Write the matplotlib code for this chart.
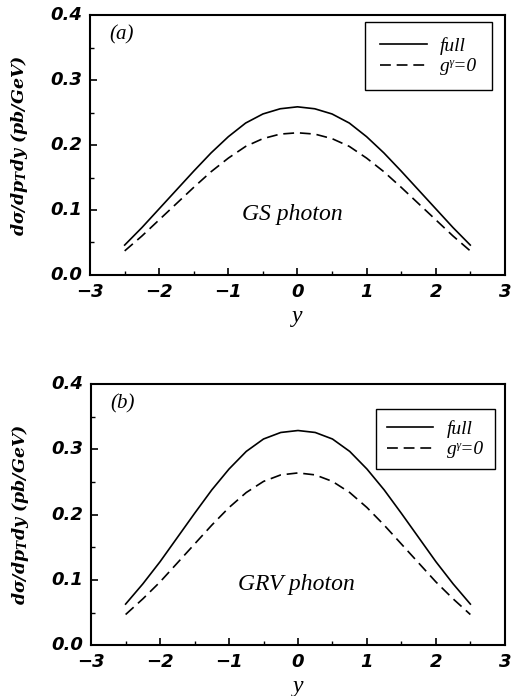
import numpy as np
import matplotlib.pyplot as plt
from matplotlib.ticker import MultipleLocator

# rapidity points
y_pts = [-2.5, -2.25, -2.0, -1.75, -1.5, -1.25, -1.0, -0.75, -0.5, -0.25, 0.0,
         0.25, 0.5, 0.75, 1.0, 1.25, 1.5, 1.75, 2.0, 2.25, 2.5]

# panel (a): GS photon
gs_full = [0.046, 0.073, 0.102, 0.131, 0.160, 0.188, 0.213, 0.234, 0.248, 0.256, 0.259,
           0.256, 0.248, 0.234, 0.213, 0.188, 0.160, 0.131, 0.102, 0.073, 0.046]
gs_nog = [0.037, 0.060, 0.085, 0.110, 0.135, 0.159, 0.180, 0.198, 0.210, 0.217, 0.219,
          0.217, 0.210, 0.198, 0.180, 0.159, 0.135, 0.110, 0.085, 0.060, 0.037]

# panel (b): GRV photon
grv_full = [0.063, 0.094, 0.128, 0.165, 0.202, 0.238, 0.270, 0.297, 0.316, 0.326, 0.329,
            0.326, 0.316, 0.297, 0.270, 0.238, 0.202, 0.165, 0.128, 0.094, 0.063]
grv_nog = [0.047, 0.071, 0.097, 0.126, 0.155, 0.184, 0.211, 0.234, 0.251, 0.261, 0.264,
           0.261, 0.251, 0.234, 0.211, 0.184, 0.155, 0.126, 0.097, 0.071, 0.047]

plt.rcParams['font.family'] = ['Liberation Serif', 'DejaVu Serif']
plt.rcParams['mathtext.fontset'] = 'custom'
plt.rcParams['mathtext.it'] = 'DejaVu Serif:italic:bold'
plt.rcParams['mathtext.rm'] = 'DejaVu Serif:italic:bold'
plt.rcParams['mathtext.bf'] = 'DejaVu Serif:italic:bold'

fig = plt.figure(figsize=(5.12, 6.96), dpi=100)
ax_a = fig.add_axes([0.176, 0.605, 0.810, 0.373])
ax_b = fig.add_axes([0.178, 0.073, 0.808, 0.375])


def draw_panel(ax, full, nog, tag, name, name_x, leg_anchor, leg_pad):
    ax.plot(y_pts, full, color='black', lw=1.2, label='full')
    ax.plot(y_pts, nog, color='black', lw=1.2, ls=(0, (6.5, 3.5)), label='g\u1d5e=0')
    ax.set_xlim(-3, 3)
    ax.set_ylim(0, 0.4)
    ax.xaxis.set_major_locator(MultipleLocator(1))
    ax.xaxis.set_minor_locator(MultipleLocator(0.5))
    ax.yaxis.set_major_locator(MultipleLocator(0.1))
    ax.yaxis.set_minor_locator(MultipleLocator(0.05))
    ax.tick_params(which='both', direction='in', top=False, right=False)
    ax.tick_params(which='major', length=5, width=1.2)
    ax.tick_params(which='minor', length=3, width=1)
    ax.set_xticklabels([])
    ax.set_yticklabels([])
    for v in range(-3, 4):
        ax.text(v, -0.012, '\u2212%d' % -v if v < 0 else '%d' % v, ha='center', va='top',
                fontsize=13, fontweight='bold', style='italic', family='DejaVu Sans')
    for v in [0.0, 0.1, 0.2, 0.3, 0.4]:
        ax.text(-3.12, v, '%.1f' % v, ha='right', va='center', fontsize=13,
                fontweight='bold', style='italic', family='DejaVu Sans')
    for s in ax.spines.values():
        s.set_linewidth(1.5)
    ax.set_xlabel('y', fontsize=17, style='italic', labelpad=19)
    ax.set_ylabel(r'$d\sigma/dp_Tdy\ (pb/GeV)$', fontsize=12.5, labelpad=40)
    ax.text(-2.72, 0.37, tag, fontsize=15, style='italic', ha='left', va='center')
    ax.text(name_x, 0.093, name, fontsize=17, style='italic', ha='center', va='center')
    leg = ax.legend(loc='upper right', bbox_to_anchor=leg_anchor,
                    handlelength=2.4, fancybox=False, edgecolor='black',
                    framealpha=1, borderpad=leg_pad, labelspacing=0.15, handletextpad=0.7,
                    borderaxespad=0, prop={'style': 'italic', 'size': 14})
    leg.get_frame().set_linewidth(1.0)


draw_panel(ax_a, gs_full, gs_nog, '(a)', 'GS photon', -0.08, (0.969, 0.973), 0.75)
draw_panel(ax_b, grv_full, grv_nog, '(b)', 'GRV photon', -0.02, (0.976, 0.904), 0.55)

fig.savefig('out.png', dpi=100)
